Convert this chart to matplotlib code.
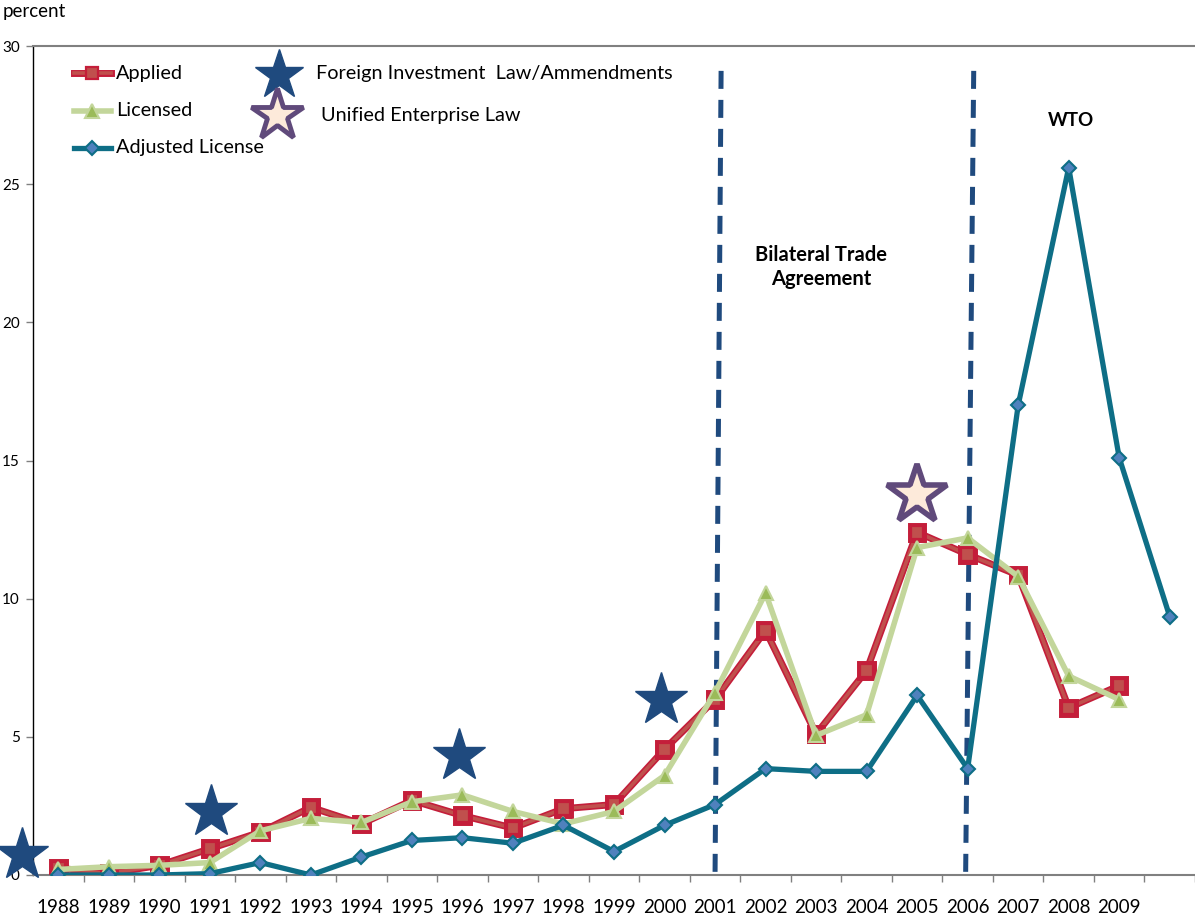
import matplotlib
matplotlib.use("Agg")
import matplotlib.pyplot as plt
import matplotlib.patheffects as pe
from matplotlib.lines import Line2D
import numpy as np

plt.rcParams['font.family'] = ['Lato', 'DejaVu Sans']

# ---------------- data ----------------
years = ['1988', '1989', '1990', '1991', '1992', '1993', '1994', '1995', '1996',
         '1997', '1998', '1999', '2000', '2001', '2002', '2003', '2004', '2005',
         '2006', '2007', '2008', '2009', '']
applied = [0.25, 0.05, 0.35, 0.95, 1.55, 2.45, 1.85, 2.7, 2.15, 1.7, 2.4, 2.55,
           4.55, 6.35, 8.85, 5.1, 7.4, 12.4, 11.6, 10.85, 6.05, 6.85]
licensed = [0.2, 0.3, 0.35, 0.45, 1.6, 2.05, 1.9, 2.65, 2.9, 2.3, 1.85, 2.3,
            3.6, 6.6, 10.2, 5.05, 5.8, 11.85, 12.2, 10.8, 7.2, 6.35]
adjusted = [0.0, 0.0, 0.0, 0.05, 0.45, 0.0, 0.65, 1.25, 1.35, 1.15, 1.8, 0.85,
            1.8, 2.55, 3.85, 3.75, 3.75, 6.5, 3.85, 17.0, 25.6, 15.1, 9.35]

# event markers (category-index position, value)
fil_star_x = [-0.71, 3.02, 7.94, 11.94]
fil_star_y = [0.72, 2.28, 4.3, 6.33]
uel_star_x = [16.99]
uel_star_y = [13.75]

# period separators (x at top, x at bottom) in category index units
sep_top_x = [13.12, 18.12]
sep_bot_x = [13.0, 17.96]
sep_top_y = 29.1

W, H = 1195, 915
fig = plt.figure(figsize=(W / 100, H / 100), dpi=100)
ax = fig.add_axes([33 / W, (H - 875) / H, (W - 33) / W, (875 - 46) / H])

x_app = np.arange(len(applied))
x_lic = np.arange(len(licensed))
x_adj = np.arange(len(adjusted))

red_edge = '#C41E3A'
red_face = '#C0504D'
green_line = '#C3D69B'
green_face = '#9BBB59'
teal = '#0E6E86'
blue_face = '#4F81BD'
star_blue = '#1F4A7E'

ax.plot(x_app, applied, color=red_face, lw=2.6, marker='s', ms=9,
        mfc=red_face, mec=red_edge, mew=1.6, zorder=3,
        path_effects=[pe.Stroke(linewidth=5, foreground=red_edge), pe.Normal()])
ax.plot(x_lic, licensed, color=green_line, lw=4, marker='^', ms=10,
        mfc=green_face, mec=green_line, mew=1.5, zorder=4)
ax.plot(x_adj, adjusted, color=teal, lw=3.8, marker='D', ms=7,
        mfc=blue_face, mec=teal, mew=1.5, zorder=5)

# separators
for xt, xb in zip(sep_top_x, sep_bot_x):
    ax.plot([xt, xb], [sep_top_y, 0], color=star_blue, lw=3.6,
            linestyle=(0, (3.6, 2.2)), zorder=2, clip_on=False)

# stars
ax.plot(fil_star_x, fil_star_y, linestyle='none', marker='*', ms=40,
        color=star_blue, mec=star_blue, zorder=6, clip_on=False)
ax.plot(uel_star_x, uel_star_y, linestyle='none', marker='*', ms=45,
        mfc='#FDEADA', mec='#604A7B', mew=4, zorder=6, clip_on=False)

# annotations
ax.text(15.1, 22.0, 'Bilateral Trade\nAgreement', ha='center', va='center',
        fontsize=14.5, fontweight='bold', linespacing=1.3)
ax.text(20.04, 27.3, 'WTO', ha='center', va='center', fontsize=13.5,
        fontweight='bold')

# axes styling
ax.set_xlim(-0.5, 22.46)
ax.set_ylim(0, 30)
ax.set_yticks([0, 5, 10, 15, 20, 25, 30])
ax.set_xticks(np.arange(len(years)))
ax.set_xticklabels(years, fontsize=13.5)
ax.set_xticks(np.arange(len(years)) + 0.5, minor=True)
ax.tick_params(axis='x', which='major', length=0, pad=17)
ax.tick_params(axis='x', which='minor', length=5, width=1, color='#808080',
               direction='out')
ax.tick_params(axis='y', length=5, width=1, direction='out', pad=4.5,
               labelsize=11, color='#808080')
for s in ['top', 'bottom']:
    ax.spines[s].set_color('#808080')
    ax.spines[s].set_linewidth(1.5)
ax.spines['left'].set_color('black')
ax.spines['left'].set_linewidth(1)
ax.spines['right'].set_visible(False)

fig.text(3 / W, 1 - 12 / H, 'percent', fontsize=13.5, ha='left', va='center')

# ---------- manual legend (figure pixel coordinates) ----------
def fx(px):
    return px / W

def fy(py):
    return 1 - py / H

leg_lines = [
    (73, 'Applied', dict(color=red_face, lw=2.6, marker='s', ms=9, mfc=red_face,
                         mec=red_edge, mew=1.6,
                         path_effects=[pe.Stroke(linewidth=5, foreground=red_edge), pe.Normal()])),
    (111, 'Licensed', dict(color=green_line, lw=4, marker='^', ms=10,
                           mfc=green_face, mec=green_line, mew=1.5)),
    (148, 'Adjusted License', dict(color=teal, lw=3.8, marker='D', ms=7,
                                   mfc=blue_face, mec=teal, mew=1.5)),
]
for py, label, kw in leg_lines:
    l = Line2D([fx(74), fx(111)], [fy(py), fy(py)], transform=fig.transFigure,
               markevery=[], **kw)
    fig.add_artist(l)
    m = Line2D([fx(92.5)], [fy(py)], transform=fig.transFigure, linestyle='none',
               **{k: v for k, v in kw.items() if k not in ('lw', 'path_effects')})
    fig.add_artist(m)
    fig.text(fx(116), fy(py), label, fontsize=14.3, ha='left', va='center')

fig.add_artist(Line2D([fx(279)], [fy(75)], transform=fig.transFigure,
                      linestyle='none', marker='*', ms=37, color=star_blue))
fig.text(fx(316), fy(74), 'Foreign Investment  Law/Ammendments', fontsize=14.3,
         ha='left', va='center')
fig.add_artist(Line2D([fx(277)], [fy(115)], transform=fig.transFigure,
                      linestyle='none', marker='*', ms=39, mfc='#FDEADA',
                      mec='#604A7B', mew=3.5))
fig.text(fx(321), fy(116), 'Unified Enterprise Law', fontsize=14.3,
         ha='left', va='center')

fig.savefig('out.png', dpi=100)
